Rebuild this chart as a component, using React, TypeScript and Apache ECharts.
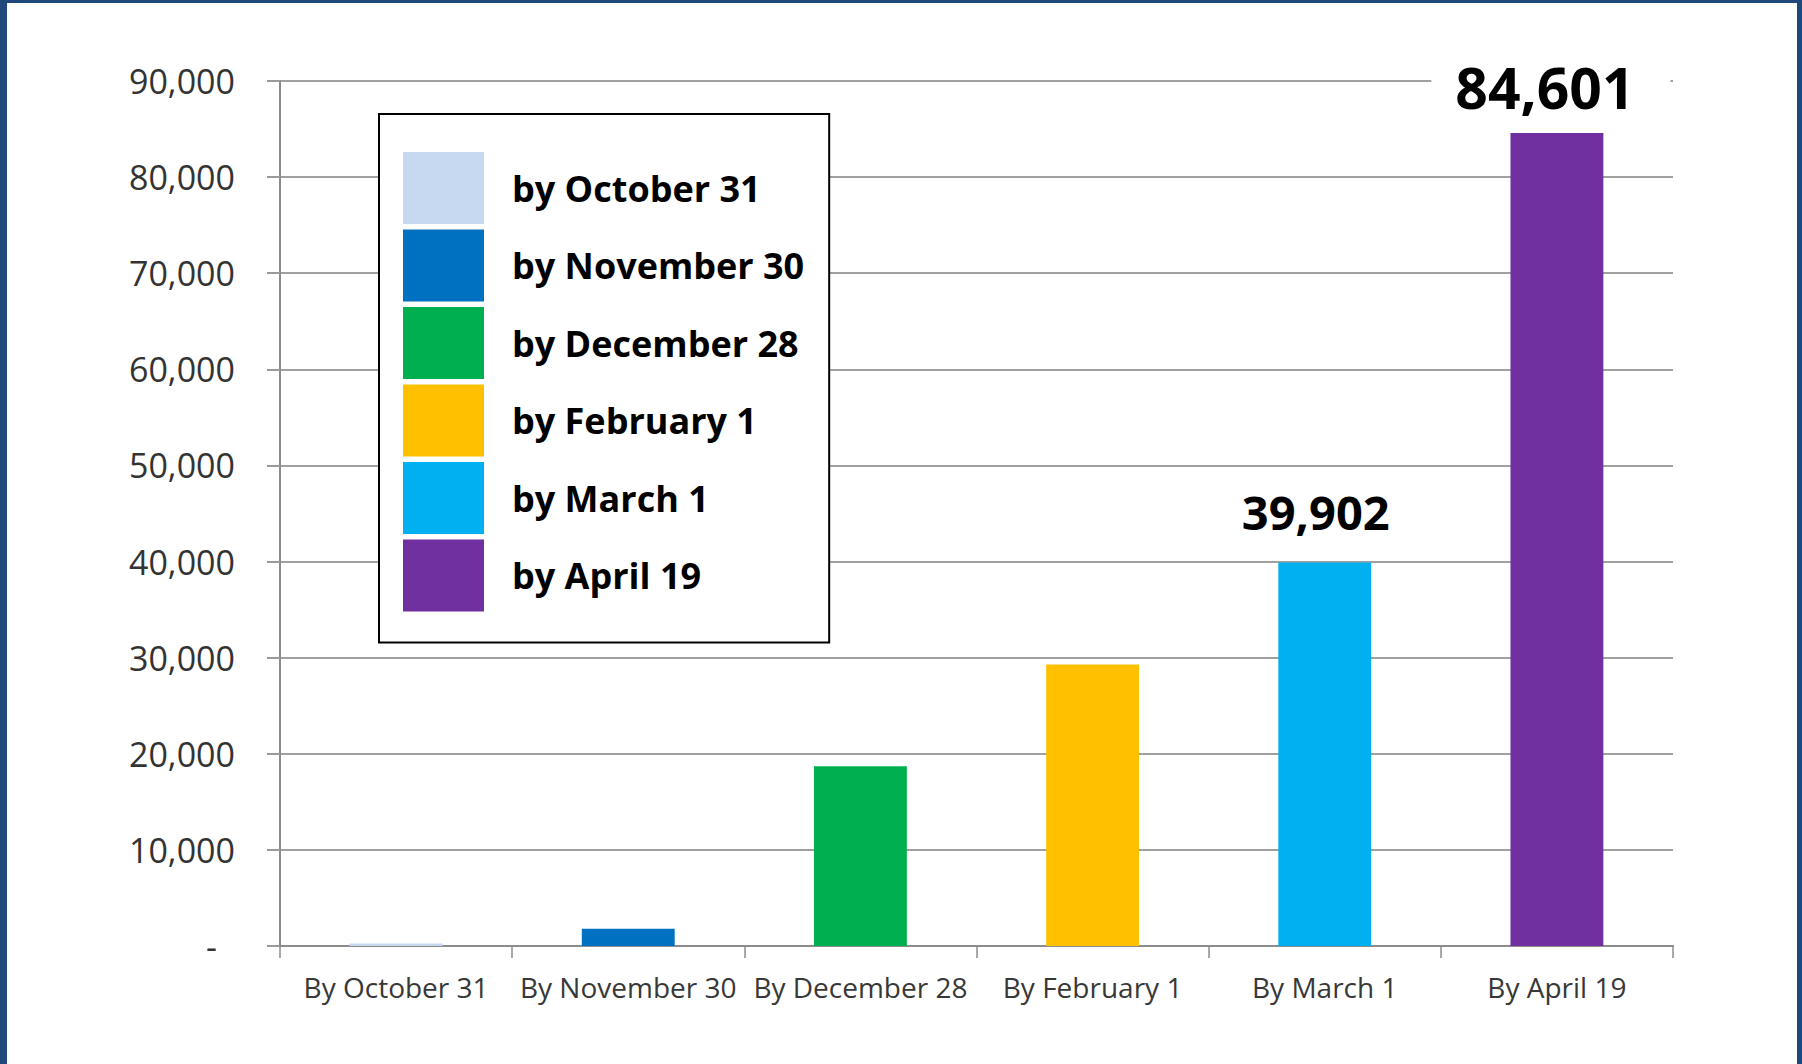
import React, { useEffect, useRef } from "react";
import * as echarts from "echarts";

const categories = [
  "By October 31",
  "By November 30",
  "By December 28",
  "By February 1",
  "By March 1",
  "By April 19",
];
const legendNames = [
  "by October 31",
  "by November 30",
  "by December 28",
  "by February 1",
  "by March 1",
  "by April 19",
];
const values = [250, 1800, 18700, 29300, 39902, 84601];
const colors = ["#C6D9F1", "#0070C0", "#00B050", "#FFC000", "#00B0F0", "#7030A0"];
const showLabel = [false, false, false, false, true, true];
const yMin = 0;
const yMax = 90000;
const yInterval = 10000;

const FONT = "'Open Sans', 'Noto Sans', sans-serif";

export default function App() {
  const ref = useRef<HTMLDivElement>(null);

  useEffect(() => {
    if (!ref.current) return;
    const chart = echarts.init(ref.current, undefined, { renderer: "svg" });

    const series = values.map((v, i) => {
      const data: any[] = categories.map(() => "-");
      const item: any = { value: v };
      if (showLabel[i]) {
        const big = i === 5;
        item.label = {
          show: true,
          position: "top",
          distance: big ? 15 : 27,
          fontFamily: FONT,
          fontWeight: "bold",
          fontSize: big ? 57 : 47,
          color: "#000",
          formatter: (p: any) => Number(p.value).toLocaleString("en-US"),
          ...(big
            ? {
                backgroundColor: "#fff",
                padding: [2, 36, 2, 24],
                offset: [-6, 0],
              }
            : { offset: [-9, 0] }),
        };
      }
      data[i] = item;
      return {
        name: legendNames[i],
        type: "bar",
        data,
        barWidth: "40%",
        barGap: "-100%",
        itemStyle: { color: colors[i] },
        emphasis: { disabled: true },
        z: i === 5 ? 3 : 2,
      };
    });

    chart.setOption({
      animation: false,
      backgroundColor: "#fff",
      grid: { left: 280, right: 129, top: 81, bottom: 118, containLabel: false },
      legend: {
        orient: "vertical",
        left: 379,
        top: 114,
        padding: [38, 25, 31, 24],
        itemWidth: 81,
        itemHeight: 72,
        itemGap: 5.5,
        icon: "rect",
        backgroundColor: "#fff",
        borderColor: "#000",
        borderWidth: 2,
        selectedMode: false,
        data: legendNames,
        textStyle: {
          fontFamily: FONT,
          fontWeight: "bold",
          fontSize: 36,
          color: "#000",
          padding: [0, 0, 0, 23],
        },
        z: 10,
      },
      xAxis: {
        type: "category",
        data: categories,
        axisLine: { show: true, lineStyle: { color: "#8c8c8c", width: 2 } },
        axisTick: { show: true, length: 12, lineStyle: { color: "#8c8c8c", width: 1.5 } },
        axisLabel: {
          interval: 0,
          margin: 27,
          fontFamily: FONT,
          fontSize: 28,
          color: "#383838",
        },
      },
      yAxis: {
        type: "value",
        min: yMin,
        max: yMax,
        interval: yInterval,
        axisLine: { show: true, lineStyle: { color: "#8c8c8c", width: 2 } },
        axisTick: { show: true, length: 13, lineStyle: { color: "#9a9a9a", width: 2 } },
        splitLine: { show: true, lineStyle: { color: "#a0a0a0", width: 2 } },
        axisLabel: {
          margin: 45,
          fontFamily: FONT,
          fontSize: 34,
          color: "#333",
          formatter: (v: number) =>
            v === 0 ? "{z|-}" : v.toLocaleString("en-US"),
          rich: {
            z: { fontFamily: FONT, fontSize: 34, color: "#333", padding: [0, 18, 0, 0] },
          },
        },
      },
      series,
      graphic: [
        { type: "rect", left: 0, top: 0, z: 100, shape: { width: 7, height: 1064 }, style: { fill: "#1F497D" } },
        { type: "rect", left: 0, top: 0, z: 100, shape: { width: 1802, height: 3 }, style: { fill: "#1F497D" } },
        { type: "rect", right: 0, top: 0, z: 100, shape: { width: 5, height: 1064 }, style: { fill: "#1F497D" } },
      ],
    });

    return () => chart.dispose();
  }, []);

  return (
    <div
      ref={ref}
      style={{ position: "fixed", left: 0, top: 0, width: 1802, height: 1064, background: "#fff" }}
    />
  );
}
